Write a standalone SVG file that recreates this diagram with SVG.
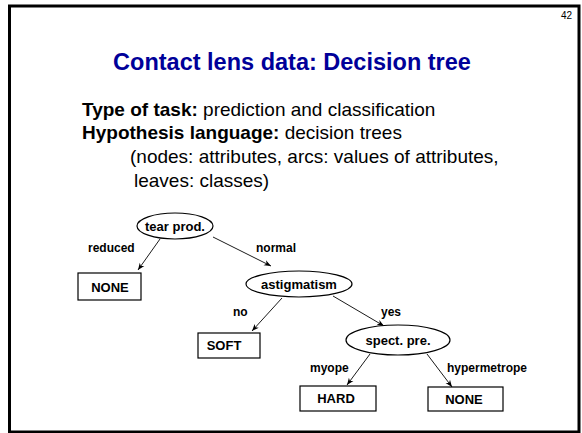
<svg xmlns="http://www.w3.org/2000/svg" width="582" height="433" viewBox="0 0 582 433">
  <style>
    text { font-family: "Liberation Sans", Arial, sans-serif; fill: #000; }
    .title { font-size: 23.5px; font-weight: bold; fill: #000099; text-anchor: middle; }
    .body { font-size: 19px; }
    .b { font-weight: bold; }
    .pg { font-size: 10px; text-anchor: end; }
    .node { fill: #fff; stroke: #000; stroke-width: 1.2; }
    .nl { font-size: 13px; font-weight: bold; text-anchor: middle; }
    .el { font-size: 12px; font-weight: bold; }
    .edge { stroke: #000; stroke-width: 0.9; fill: none; marker-end: url(#arr); }
  </style>
  <defs>
    <marker id="arr" viewBox="0 0 10 10" refX="10" refY="5" markerWidth="7" markerHeight="7" markerUnits="userSpaceOnUse" orient="auto">
      <path d="M0,1 L10,5 L0,9 L3,5 Z" fill="#000"/>
    </marker>
  </defs>

  <!-- slide frame -->
  <rect x="9.5" y="6" width="569.5" height="426" fill="#fff" stroke="#000" stroke-width="3"/>
  <text class="pg" x="572" y="19">42</text>

  <text class="title" x="292" y="70">Contact lens data: Decision tree</text>

  <text class="body" x="82" y="116"><tspan class="b">Type of task:</tspan> prediction and classification</text>
  <text class="body" x="82" y="139"><tspan class="b">Hypothesis language:</tspan> decision trees</text>
  <text class="body" x="130" y="163">(nodes: attributes, arcs: values of attributes,</text>
  <text class="body" x="134" y="187">leaves: classes)</text>

  <!-- connectors -->
  <g id="edges">
    <line class="edge" x1="160" y1="239" x2="138" y2="270"/>
    <line class="edge" x1="213" y1="237" x2="271" y2="266"/>
    <line class="edge" x1="282" y1="298" x2="252" y2="331"/>
    <line class="edge" x1="333" y1="296" x2="384" y2="326"/>
    <line class="edge" x1="370" y1="354" x2="347" y2="385"/>
    <line class="edge" x1="427" y1="354" x2="452" y2="387"/>
    <text class="el" x="88" y="252">reduced</text>
    <text class="el" x="256" y="252">normal</text>
    <text class="el" x="233" y="316">no</text>
    <text class="el" x="381" y="316">yes</text>
    <text class="el" x="310" y="372">myope</text>
    <text class="el" x="447" y="372">hypermetrope</text>
  </g>

  <g id="tear-prod">
    <ellipse class="node" cx="175" cy="226" rx="38" ry="13"/>
    <text class="nl" x="175" y="231">tear prod.</text>
  </g>
  <g id="none-1">
    <rect class="node" x="78" y="273" width="63" height="27"/>
    <text class="nl" x="110" y="292">NONE</text>
  </g>
  <g id="astigmatism">
    <ellipse class="node" cx="299" cy="284" rx="53" ry="13"/>
    <text class="nl" x="299" y="289">astigmatism</text>
  </g>
  <g id="soft">
    <rect class="node" x="198" y="333" width="62" height="25"/>
    <text class="nl" x="224" y="350">SOFT</text>
  </g>
  <g id="spect-pre">
    <ellipse class="node" cx="398" cy="340" rx="52" ry="15"/>
    <text class="nl" x="398" y="345">spect. pre.</text>
  </g>
  <g id="hard">
    <rect class="node" x="300" y="386" width="76" height="25"/>
    <text class="nl" x="336" y="403">HARD</text>
  </g>
  <g id="none-2">
    <rect class="node" x="428" y="387" width="75" height="24"/>
    <text class="nl" x="464" y="404">NONE</text>
  </g>
</svg>
